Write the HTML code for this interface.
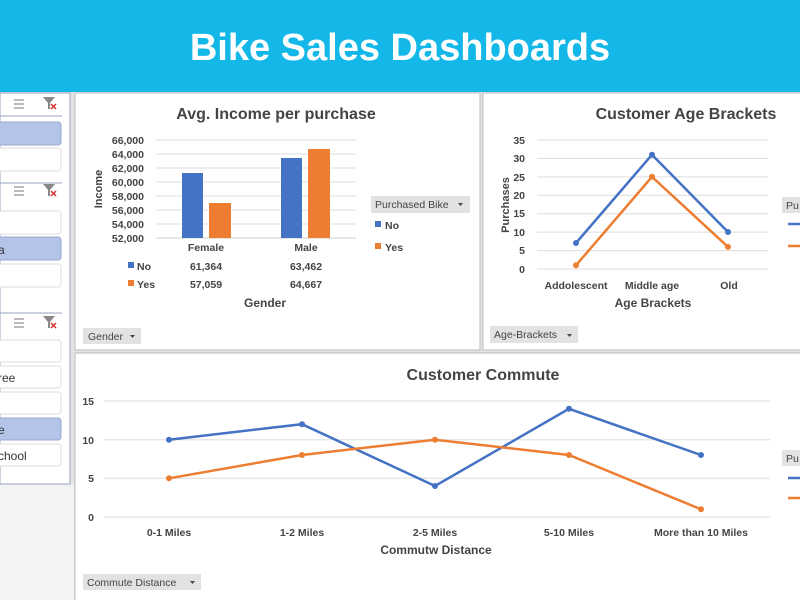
<!DOCTYPE html>
<html><head><meta charset="utf-8"><style>
body{margin:0;width:800px;height:600px;overflow:hidden;background:#fff;font-family:"Liberation Sans",sans-serif}
svg{display:block}
</style></head><body>
<svg width="800" height="600" xmlns="http://www.w3.org/2000/svg" font-family="Liberation Sans, sans-serif">
<rect width="800" height="600" fill="#e4e4e4"/>
<rect x="0" y="484" width="74" height="116" fill="#f3f3f3"/>
<rect x="0" y="0" width="800" height="92" fill="#14b8e8"/>
<text x="400" y="60" text-anchor="middle" font-size="38" font-weight="bold" fill="#fff">Bike Sales Dashboards</text>
<!-- left slicers -->
<rect x="0" y="93" width="70" height="391" fill="#fff" stroke="#9aa4c0"/>
<g fill="none" stroke="#777" stroke-width="1">
<path d="M14 100h10M14 104h10M14 108h10"/><path d="M14 187h10M14 191h10M14 195h10"/><path d="M14 319h10M14 323h10M14 327h10"/>
</g>
<g fill="#888"><path d="M43 97h12l-5 6v6h-2v-6z"/><path d="M43 184h12l-5 6v6h-2v-6z"/><path d="M43 316h12l-5 6v6h-2v-6z"/></g>
<g stroke="#d33" stroke-width="1.5"><path d="M51 104l5 5M56 104l-5 5M51 191l5 5M56 191l-5 5M51 323l5 5M56 323l-5 5"/></g>
<g stroke="#9aa4c0"><path d="M0 116h62M0 183h62M0 313h62"/></g>
<rect x="-5" y="122" width="66" height="23" rx="3" fill="#b4c4e8" stroke="#9aa8d0"/>
<rect x="-5" y="148" width="66" height="23" rx="3" fill="#fff" stroke="#ddd"/>
<rect x="-5" y="211" width="66" height="23" rx="3" fill="#fff" stroke="#ddd"/>
<rect x="-5" y="237" width="66" height="23" rx="3" fill="#b4c4e8" stroke="#9aa8d0"/>
<rect x="-5" y="264" width="66" height="23" rx="3" fill="#fff" stroke="#ddd"/>
<rect x="-5" y="340" width="66" height="22" rx="3" fill="#fff" stroke="#ddd"/>
<rect x="-5" y="366" width="66" height="22" rx="3" fill="#fff" stroke="#ddd"/>
<rect x="-5" y="392" width="66" height="22" rx="3" fill="#fff" stroke="#ddd"/>
<rect x="-5" y="418" width="66" height="22" rx="3" fill="#b4c4e8" stroke="#9aa8d0"/>
<rect x="-5" y="444" width="66" height="22" rx="3" fill="#fff" stroke="#ddd"/>
<g font-size="12" fill="#333"><text x="-2" y="254">a</text><text x="-2" y="382">ree</text><text x="-2" y="434">e</text><text x="-2" y="460">chool</text></g>
<!-- chart1 -->
<rect x="75" y="93" width="405" height="257" fill="#fff" stroke="#bbb"/>
<text x="276" y="119" text-anchor="middle" font-size="16" font-weight="bold" fill="#444">Avg. Income per purchase</text>
<g stroke="#ddd"><path d="M156 140h200M156 154h200M156 168h200M156 182h200M156 196h200M156 210h200M156 224h200"/></g>
<path d="M156 238h200" stroke="#ccc"/>
<g font-size="10.5" font-weight="bold" fill="#444" text-anchor="end">
<text x="144" y="144">66,000</text><text x="144" y="158">64,000</text><text x="144" y="172">62,000</text><text x="144" y="186">60,000</text><text x="144" y="200">58,000</text><text x="144" y="214">56,000</text><text x="144" y="228">54,000</text><text x="144" y="242">52,000</text></g>
<text transform="translate(102 189) rotate(-90)" text-anchor="middle" font-size="11" font-weight="bold" fill="#444">Income</text>
<rect x="182" y="173" width="21" height="65" fill="#4472c4"/>
<rect x="209" y="203" width="22" height="35" fill="#ed7d31"/>
<rect x="281" y="158" width="21" height="80" fill="#4472c4"/>
<rect x="308" y="149" width="22" height="89" fill="#ed7d31"/>
<g font-size="10.5" font-weight="bold" fill="#444" text-anchor="middle">
<text x="206" y="251">Female</text><text x="306" y="251">Male</text>
<text x="206" y="270">61,364</text><text x="306" y="270">63,462</text>
<text x="206" y="288">57,059</text><text x="306" y="288">64,667</text></g>
<rect x="128" y="262" width="6" height="6" fill="#4472c4"/><rect x="128" y="280" width="6" height="6" fill="#ed7d31"/>
<g font-size="10.5" font-weight="bold" fill="#444"><text x="137" y="270">No</text><text x="137" y="288">Yes</text></g>
<text x="265" y="307" text-anchor="middle" font-size="12" font-weight="bold" fill="#444">Gender</text>
<rect x="371" y="196" width="99" height="17" fill="#e2e2e2"/>
<text x="375" y="208" font-size="10.5" fill="#444">Purchased Bike</text><path d="M458 203h5l-2.5 3z" fill="#444"/>
<rect x="375" y="221" width="6" height="6" fill="#4472c4"/><rect x="375" y="243" width="6" height="6" fill="#ed7d31"/>
<g font-size="10.5" font-weight="bold" fill="#444"><text x="385" y="229">No</text><text x="385" y="251">Yes</text></g>
<rect x="83" y="328" width="58" height="16" fill="#e2e2e2"/><text x="88" y="340" font-size="10.5" fill="#444">Gender</text><path d="M130 335h5l-2.5 3z" fill="#444"/>
<!-- chart2 -->
<rect x="483" y="93" width="330" height="257" fill="#fff" stroke="#bbb"/>
<text x="686" y="119" text-anchor="middle" font-size="16" font-weight="bold" fill="#444">Customer Age Brackets</text>
<g stroke="#ddd"><path d="M537 140h231M537 158.4h231M537 176.9h231M537 195.3h231M537 213.7h231M537 232.1h231M537 250.6h231M537 269h231"/></g>
<g font-size="10.5" font-weight="bold" fill="#444" text-anchor="end">
<text x="525" y="144">35</text><text x="525" y="162">30</text><text x="525" y="181">25</text><text x="525" y="199">20</text><text x="525" y="217">15</text><text x="525" y="236">10</text><text x="525" y="254">5</text><text x="525" y="273">0</text></g>
<text transform="translate(509 205) rotate(-90)" text-anchor="middle" font-size="11" font-weight="bold" fill="#444">Purchases</text>
<polyline points="576,243 652,154.7 728,232" fill="none" stroke="#4472c4" stroke-width="2.5"/>
<polyline points="576,265.3 652,176.8 728,246.9" fill="none" stroke="#ed7d31" stroke-width="2.5"/>
<g fill="#4472c4"><circle cx="576" cy="243" r="3"/><circle cx="652" cy="154.7" r="3"/><circle cx="728" cy="232" r="3"/></g>
<g fill="#ed7d31"><circle cx="576" cy="265.3" r="3"/><circle cx="652" cy="176.8" r="3"/><circle cx="728" cy="246.9" r="3"/></g>
<g font-size="10.5" font-weight="bold" fill="#444" text-anchor="middle"><text x="576" y="289">Addolescent</text><text x="652" y="289">Middle age</text><text x="729" y="289">Old</text></g>
<text x="653" y="307" text-anchor="middle" font-size="12" font-weight="bold" fill="#444">Age Brackets</text>
<rect x="782" y="197" width="20" height="16" fill="#e2e2e2"/><text x="786" y="209" font-size="10.5" fill="#444">Pu</text>
<path d="M788 224h12" stroke="#4472c4" stroke-width="2.5"/><path d="M788 246h12" stroke="#ed7d31" stroke-width="2.5"/>
<rect x="490" y="326" width="88" height="17" fill="#e2e2e2"/><text x="494" y="338" font-size="10.5" fill="#444">Age-Brackets</text><path d="M567 334h5l-2.5 3z" fill="#444"/>
<!-- chart3 -->
<rect x="75" y="353" width="740" height="260" fill="#fff" stroke="#bbb"/>
<text x="483" y="380" text-anchor="middle" font-size="16" font-weight="bold" fill="#444">Customer Commute</text>
<g stroke="#ddd"><path d="M104 401h666M104 439.7h666M104 478.3h666M104 517h666"/></g>
<g font-size="10.5" font-weight="bold" fill="#444" text-anchor="end"><text x="94" y="405">15</text><text x="94" y="444">10</text><text x="94" y="482">5</text><text x="94" y="521">0</text></g>
<polyline points="169,439.7 302,424.2 435,486 569,408.8 701,455" fill="none" stroke="#4472c4" stroke-width="2.5"/>
<polyline points="169,478.3 302,455 435,439.7 569,455 701,509.3" fill="none" stroke="#ed7d31" stroke-width="2.5"/>
<g fill="#4472c4"><circle cx="169" cy="439.7" r="3"/><circle cx="302" cy="424.2" r="3"/><circle cx="435" cy="486" r="3"/><circle cx="569" cy="408.8" r="3"/><circle cx="701" cy="455" r="3"/></g>
<g fill="#ed7d31"><circle cx="169" cy="478.3" r="3"/><circle cx="302" cy="455" r="3"/><circle cx="435" cy="439.7" r="3"/><circle cx="569" cy="455" r="3"/><circle cx="701" cy="509.3" r="3"/></g>
<g font-size="10.5" font-weight="bold" fill="#444" text-anchor="middle"><text x="169" y="536">0-1 Miles</text><text x="302" y="536">1-2 Miles</text><text x="435" y="536">2-5 Miles</text><text x="569" y="536">5-10 Miles</text><text x="701" y="536">More than 10 Miles</text></g>
<text x="436" y="554" text-anchor="middle" font-size="12" font-weight="bold" fill="#444">Commutw Distance</text>
<rect x="782" y="450" width="20" height="16" fill="#e2e2e2"/><text x="786" y="462" font-size="10.5" fill="#444">Pu</text>
<path d="M788 478h12" stroke="#4472c4" stroke-width="2.5"/><path d="M788 498h12" stroke="#ed7d31" stroke-width="2.5"/>
<rect x="83" y="574" width="118" height="16" fill="#e2e2e2"/><text x="87" y="586" font-size="10.5" fill="#444">Commute Distance</text><path d="M190 581h5l-2.5 3z" fill="#444"/>
</svg>
</body></html>
